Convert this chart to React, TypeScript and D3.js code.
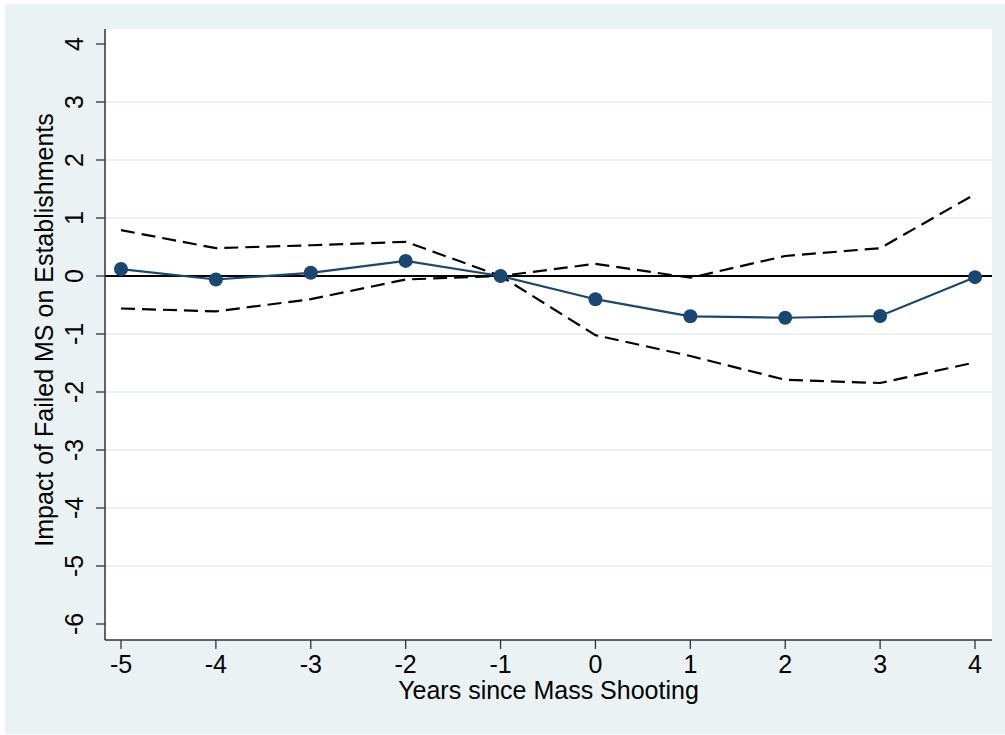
import React from "react";
import * as d3 from "d3";

const years = [-5, -4, -3, -2, -1, 0, 1, 2, 3, 4];
const estimate = [0.12, -0.06, 0.055, 0.26, 0, -0.4, -0.695, -0.72, -0.69, -0.02];
const upperCI = [0.79, 0.48, 0.53, 0.59, 0, 0.21, -0.03, 0.345, 0.48, 1.41];
const lowerCI = [-0.56, -0.61, -0.4, -0.06, 0, -1.02, -1.38, -1.79, -1.845, -1.49];
const yTicks = [4, 3, 2, 1, 0, -1, -2, -3, -4, -5, -6];
const xTicks = [-5, -4, -3, -2, -1, 0, 1, 2, 3, 4];
const xTitle = "Years since Mass Shooting";
const yTitle = "Impact of Failed MS on Establishments";

const W = 1005;
const H = 735;
const plotL = 105;
const plotR = 992;
const plotT = 29;
const plotB = 640;

export default function App() {
  const x = d3.scaleLinear().domain([-5, 4]).range([121, 975]);
  const y = d3.scaleLinear().domain([4, -6]).range([44, 624]);

  const pts = years.map((yr, i) => ({ yr, est: estimate[i], hi: upperCI[i], lo: lowerCI[i] }));
  const lineEst = d3.line<any>().x((d) => x(d.yr)).y((d) => y(d.est));
  const lineHi = d3.line<any>().x((d) => x(d.yr)).y((d) => y(d.hi));
  const lineLo = d3.line<any>().x((d) => x(d.yr)).y((d) => y(d.lo));

  const font = "'Liberation Sans', Arial, sans-serif";
  const navy = "#1a476f";
  const fs = 25;

  return (
    <svg
      width={W}
      height={H}
      style={{ position: "absolute", left: 0, top: 0, background: "#fff" }}
      fontFamily={font}
    >
      <rect x={5} y={4} width={W - 5} height={H - 5} fill="#eaf2f3" />
      <rect x={plotL} y={plotT} width={plotR - plotL} height={plotB - plotT} fill="#fff" />
      {/* gridlines */}
      {yTicks
        .filter((t) => t !== 4 && t !== -6)
        .map((t) => (
          <line key={"g" + t} x1={plotL} x2={plotR} y1={y(t)} y2={y(t)} stroke="#eaf2f3" strokeWidth={2} />
        ))}
      {/* zero line */}
      <line x1={plotL} x2={plotR} y1={y(0)} y2={y(0)} stroke="#000" strokeWidth={2} />
      {/* CI lines */}
      <path d={lineHi(pts) || ""} fill="none" stroke="#000" strokeWidth={2.2} strokeDasharray="14,7" />
      <path d={lineLo(pts) || ""} fill="none" stroke="#000" strokeWidth={2.2} strokeDasharray="14,7" />
      {/* estimate */}
      <path d={lineEst(pts) || ""} fill="none" stroke={navy} strokeWidth={2.2} />
      {pts.map((d) => (
        <circle key={"c" + d.yr} cx={x(d.yr)} cy={y(d.est)} r={7} fill={navy} />
      ))}
      {/* y axis */}
      <line x1={plotL} x2={plotL} y1={plotT} y2={plotB} stroke="#333" strokeWidth={1.5} />
      {yTicks.map((t) => (
        <g key={"yt" + t}>
          <line x1={plotL - 9} x2={plotL} y1={y(t)} y2={y(t)} stroke="#333" strokeWidth={1.3} />
          <text
            transform={`translate(${83},${y(t)}) rotate(-90)`}
            textAnchor="middle"
            fontSize={fs}
            fill="#000"
          >
            {t < 0 ? "-" + Math.abs(t) : String(t)}
          </text>
        </g>
      ))}
      <text
        transform={`translate(${53},${330}) rotate(-90)`}
        textAnchor="middle"
        fontSize={fs}
        fill="#000"
      >
        {yTitle}
      </text>
      {/* x axis */}
      <line x1={plotL} x2={plotR} y1={plotB} y2={plotB} stroke="#333" strokeWidth={1.5} />
      {xTicks.map((t) => (
        <g key={"xt" + t}>
          <line x1={x(t)} x2={x(t)} y1={plotB} y2={plotB + 9} stroke="#333" strokeWidth={1.3} />
          <text x={x(t)} y={673} textAnchor="middle" fontSize={fs} fill="#000">
            {t < 0 ? "-" + Math.abs(t) : String(t)}
          </text>
        </g>
      ))}
      <text x={(plotL + plotR) / 2 + 0} y={699} textAnchor="middle" fontSize={fs} fill="#000">
        {xTitle}
      </text>
    </svg>
  );
}
